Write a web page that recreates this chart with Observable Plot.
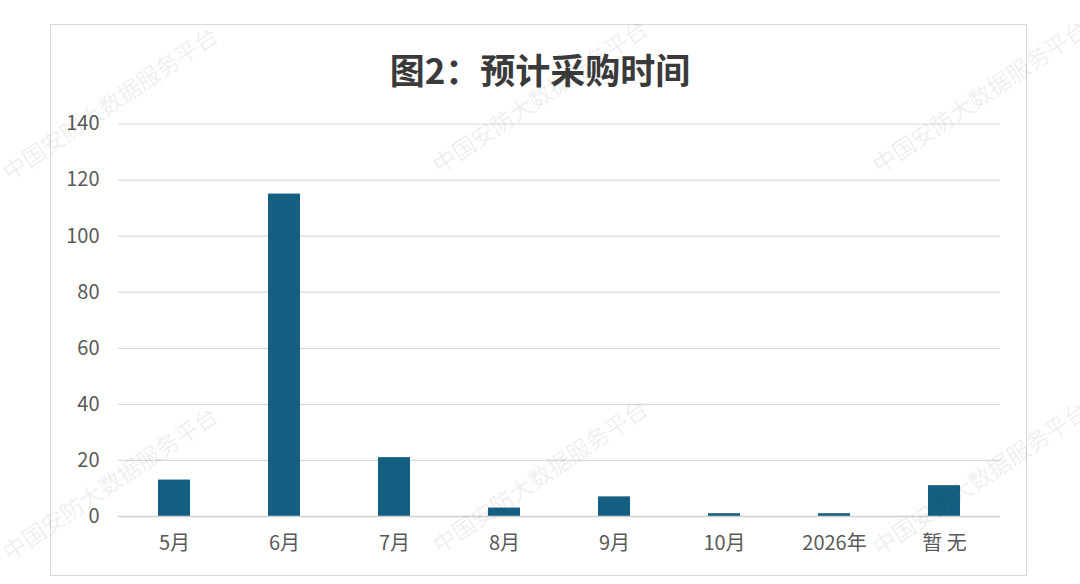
<!DOCTYPE html>
<html>
<head>
<meta charset="utf-8">
<script src="https://cdn.jsdelivr.net/npm/d3@7"></script>
<script src="https://cdn.jsdelivr.net/npm/@observablehq/plot@0.6"></script>
<style>
  html, body { margin: 0; padding: 0; background: #fff; }
  #wrap { position: relative; width: 1080px; height: 584px; overflow: hidden; font-family: "Noto Sans CJK SC", "Noto Sans", sans-serif; }
  #frame { position: absolute; left: 50px; top: 24px; width: 977px; height: 552px; border: 1.5px solid #d9d9d9; box-sizing: border-box; }
  #title { position: absolute; left: 0; width: 1080px; top: 44px; text-align: center; font-size: 35px; font-weight: bold; color: #3a3a3a; line-height: 50px; }
  #chart { position: absolute; left: 0; top: 0; }
  .wm { position: absolute; font-size: 23px; color: rgba(0,0,0,0.085); white-space: nowrap; transform-origin: 0 0; transform: rotate(-34deg); pointer-events: none; }
</style>
</head>
<body>
<div id="wrap">
  <div id="frame"></div>
  <div id="chart"></div>
  <div id="title">图2：预计采购时间</div>
</div>
<script>
const categories = ["5月", "6月", "7月", "8月", "9月", "10月", "2026年", "暂 无"];
const values = [13, 115, 21, 3, 7, 1, 1, 11];
const yTicks = [0, 20, 40, 60, 80, 100, 120, 140];
const watermarkText = "中国安防大数据服务平台";
const watermarkSpots = [[-5, 185], [425, 178], [865, 178], [-5, 565], [425, 558], [865, 560]];

const data = categories.map((c, i) => ({cat: c, v: values[i]}));

const chart = Plot.plot({
  width: 1080,
  height: 584,
  marginTop: 123.5,
  marginBottom: 68,
  marginLeft: 118,
  marginRight: 80,
  style: {fontFamily: '"Noto Sans CJK SC", "Noto Sans", sans-serif', fontSize: "20px", color: "#595959", background: "transparent"},
  x: {domain: categories, paddingInner: 0.71, paddingOuter: 0.355, label: null},
  y: {domain: [0, 140], label: null},
  marks: [
    Plot.gridY(yTicks, {stroke: "#d9d9d9", strokeOpacity: 1, strokeWidth: 1.2}),
    Plot.barY(data, {x: "cat", y: "v", fill: "#156082"}),
    Plot.ruleY([0], {stroke: "#d0d0d0", strokeWidth: 1.5}),
    Plot.axisX({tickSize: 0, tickPadding: 19, fontSize: 20, fill: "#595959", label: null}),
    Plot.axisY(yTicks, {tickSize: 0, tickPadding: 19, fontSize: 20, fill: "#595959", label: null})
  ]
});
document.getElementById("chart").appendChild(chart);

const wrap = document.getElementById("wrap");
for (const [x, y] of watermarkSpots) {
  const d = document.createElement("div");
  d.className = "wm";
  d.textContent = watermarkText;
  d.style.left = x + "px";
  d.style.top = (y - 26) + "px";
  wrap.appendChild(d);
}
</script>
</body>
</html>
